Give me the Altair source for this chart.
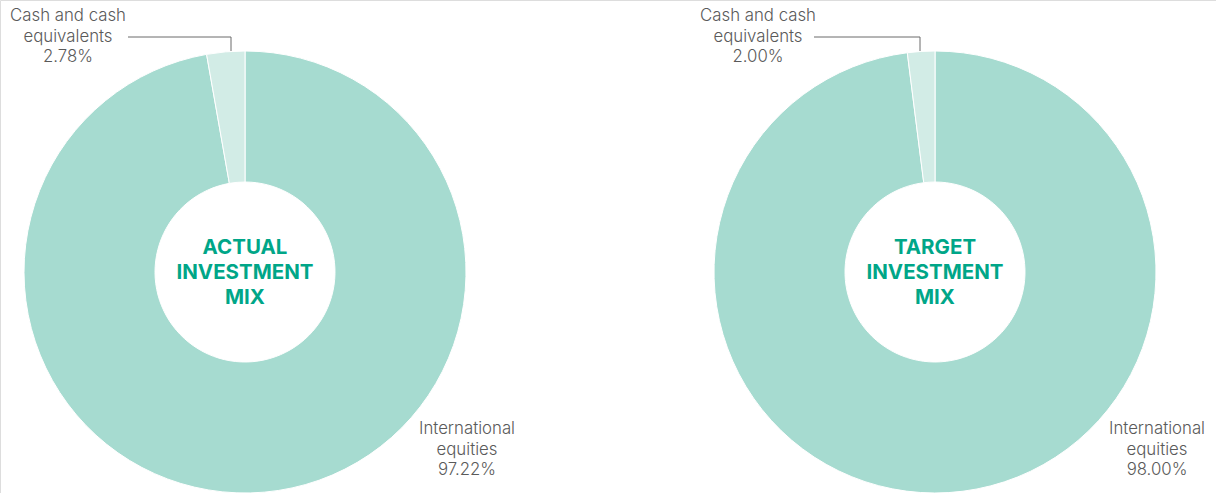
import altair as alt
import pandas as pd

categories = ["International equities", "Cash and cash equivalents"]
actual_values = [97.22, 2.78]
target_values = [98.00, 2.00]
titles = [["ACTUAL", "INVESTMENT", "MIX"], ["TARGET", "INVESTMENT", "MIX"]]

colors = ["#a6dbd0", "#d2ece6"]
teal = "#00a688"
grey = "#5a5a5a"
FONT = "Inter"

def pie(values, cx):
    df = pd.DataFrame({"category": categories, "value": values, "order": [0, 1]})
    return alt.Chart(df).mark_arc(outerRadius=221, innerRadius=90, stroke="white", strokeWidth=1).encode(
        theta=alt.Theta("value:Q", stack=True),
        order=alt.Order("order:Q"),
        color=alt.Color("category:N", scale=alt.Scale(domain=categories, range=colors), legend=None),
        x=alt.value(cx), y=alt.value(272),
    )

def text(lines, x, y, color=grey, size=16.8, weight=300, lh=20.5):
    return alt.Chart(alt.Data(values=[{}])).mark_text(
        text=lines, font=FONT, fontSize=size, fontWeight=weight, color=color,
        lineHeight=lh, align="center", baseline="middle"
    ).encode(x=alt.value(x), y=alt.value(y))

def rule(x, x2, y, y2):
    return alt.Chart(alt.Data(values=[{}])).mark_rule(color="#6a6a6a", strokeWidth=1).encode(
        x=alt.value(x), x2=alt.value(x2), y=alt.value(y), y2=alt.value(y2))

layers = []
for i, (vals, cx) in enumerate([(actual_values, 245), (target_values, 935)]):
    layers.append(pie(vals, cx))
    layers.append(text(titles[i], cx, 248, color=teal, size=20.5, weight="bold", lh=25))
    lx = 68 if i == 0 else 758
    layers.append(text(["Cash and cash", "equivalents", f"{vals[1]:.2f}%"], lx, 16))
    rx = 467 if i == 0 else 1157
    layers.append(text(["International", "equities", f"{vals[0]:.2f}%"], rx, 429))
    vx = 231 if i == 0 else 920
    hx = 128 if i == 0 else 814
    layers.append(rule(hx, vx, 37, 37))
    layers.append(rule(vx, vx, 37, 51))

chart = alt.layer(*layers).properties(
    width=1216, height=493, autosize=alt.AutoSizeParams(type="none"), padding=0
).configure_view(stroke="transparent", strokeWidth=0).configure(background="white")

chart.save("out.html", embed_options={"renderer": "svg", "actions": False})
